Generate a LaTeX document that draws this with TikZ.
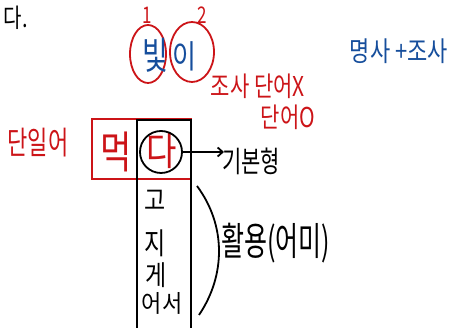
\documentclass[tikz,border=0pt]{standalone}
\usepackage{fontspec}
\usepackage{graphicx}
\setmainfont{Noto Sans CJK KR}
\usetikzlibrary{arrows.meta}
\definecolor{pred}{RGB}{204,20,24}
\definecolor{pblue}{RGB}{22,78,156}
\tikzset{
  red txt/.style={text=pred, inner sep=0pt},
  blue txt/.style={text=pblue, inner sep=0pt},
  blk txt/.style={text=black, inner sep=0pt},
  pen/.style={line width=1.8pt},
}
\newcommand{\fs}[1]{\fontsize{#1}{#1}\selectfont}
\newcommand{\tall}[2][1.35]{\scalebox{1}[#1]{#2}}
\begin{document}
\begin{tikzpicture}[x=1pt,y=-1pt]
\useasboundingbox[fill=white] (0,0) rectangle (456,328);
% top left fragment
\node[blk txt, font=\fs{20}, anchor=east] (da0) at (28,18) {\tall[1.3]{다.}};
% ellipses
\draw[pen, pred] (148,54) ellipse [x radius=18pt, y radius=29pt];
\draw[pen, pred] (192,52) ellipse [x radius=22pt, y radius=30pt];
\node[red txt, font=\fs{17}] (one) at (147,15) {\tall{1}};
\node[red txt, font=\fs{17}] (two) at (202,15) {\tall{2}};
\node[blue txt, font=\fs{28}] (bit) at (155,55) {\tall[1.35]{빛}};
\node[blue txt, font=\fs{26}] (i) at (184,56) {\tall[1.25]{이}};
\node[blue txt, font=\fs{22}] (noun) at (399,51) {\tall[1.25]{명사 +조사}};
\node[red txt, font=\fs{21}] (josa) at (258,86) {\tall[1.3]{조사 단어X}};
\node[red txt, font=\fs{21}] (dano) at (288,117) {\tall[1.3]{단어O}};
% 단일어
\node[red txt, font=\fs{22}] (danil) at (38,143) {\tall[1.45]{단일어}};
% boxes
\draw[pen, pred] (92,119) rectangle (191,179);
\draw[pen, black] (137,120) rectangle (191,340);
\node[red txt, font=\fs{34}] (meok) at (116,152) {\tall[1.3]{먹}};
\node[red txt, font=\fs{33}] (da) at (162,151) {\tall[1.2]{다}};
\node[draw=black, pen, circle, minimum size=42pt, inner sep=0pt] (dacirc) at (161,152) {};
\node[blk txt, font=\fs{21}, anchor=west] (gibon) at (222,161) {\tall[1.4]{기본형}};
\draw[pen, -{Straight Barb[length=5pt,width=9pt]}] (dacirc.east) -- (224,152);
% column
\node[blk txt, font=\fs{23}] (go) at (155,200) {\tall[1.2]{고}};
\node[blk txt, font=\fs{23}] (ji) at (155,243) {\tall[1.3]{지}};
\node[blk txt, font=\fs{23}] (ge) at (156,275) {\tall[1.2]{게}};
\node[blk txt, font=\fs{22}] (eoseo) at (162,303) {\tall[1.1]{어서}};
% bracket
\coordinate (brtop) at (197,186);
\coordinate (brbot) at (199,315);
\draw[pen] (brtop) .. controls (226,225) and (226,275) .. (brbot);
\node[blk txt, font=\fs{25}, anchor=west] (hwal) at (221,243) {\tall[1.55]{활용(어미)}};
\end{tikzpicture}
\end{document}
